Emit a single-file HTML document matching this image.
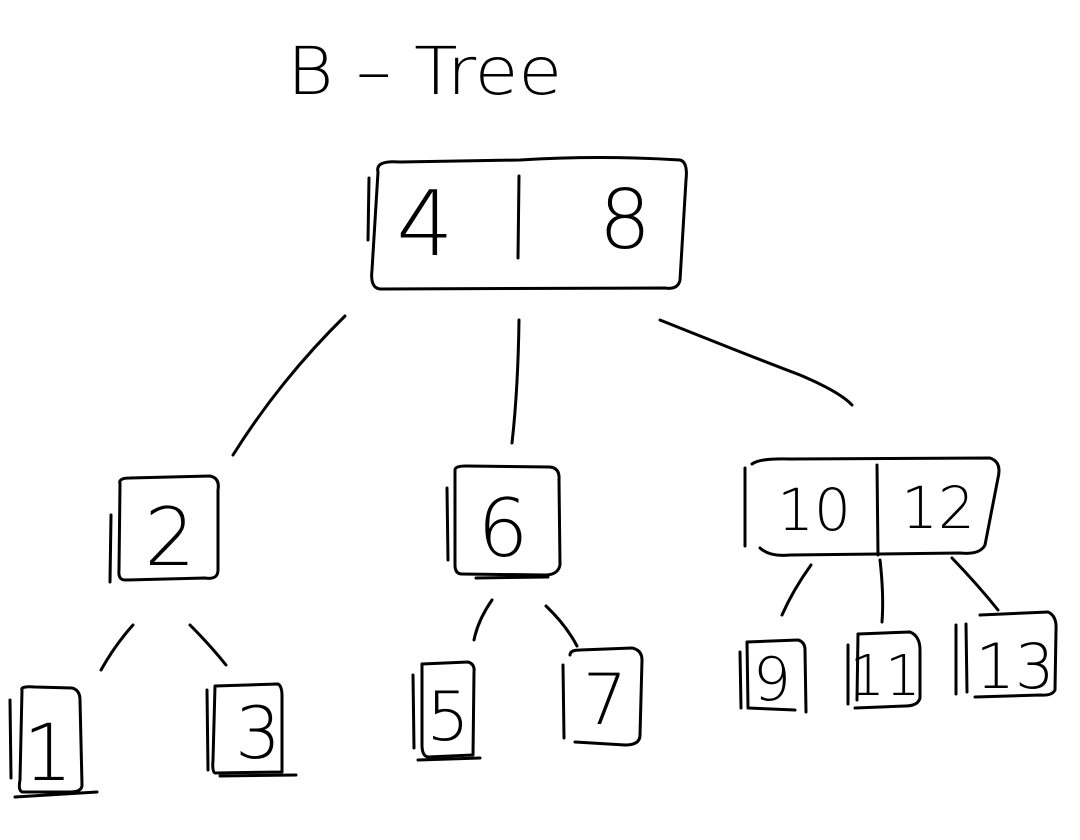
<!DOCTYPE html>
<html><head><meta charset="utf-8"><style>
html,body{margin:0;padding:0;background:#fff;}
svg{display:block}
text{font-family:"DejaVu Sans","Liberation Sans",sans-serif;font-weight:200;fill:#000}
</style></head><body>
<svg width="1080" height="840" viewBox="0 0 1080 840" xmlns="http://www.w3.org/2000/svg">
<g fill="none" stroke="#000" stroke-width="3" stroke-linecap="round" stroke-linejoin="round">
<path d="M378 172 Q375 160 400 162 L520 160 Q600 155 680 160 Q688 162 686 180 L680 280 Q678 290 665 288 L380 289 Q370 288 372 270 Z"/>
<path d="M369 178 L368 240"/>
<path d="M519 176 L518 258"/>
<path d="M345 316 Q280 380 233 455"/>
<path d="M519 320 Q518 390 512 443"/>
<path d="M660 320 Q760 360 800 375 Q840 392 852 405"/>
<path d="M120 484 Q118 478 130 478 L210 476 Q220 478 218 490 L218 570 Q218 580 205 578 L125 580 Q118 580 119 570 Z"/>
<path d="M111 515 L110 582"/>
<path d="M455 470 Q455 466 466 466 L550 467 Q560 468 559 480 L560 565 Q558 575 545 575 L462 574 Q455 574 455 565 Z"/>
<path d="M447 488 L448 560"/>
<path d="M476 578 L548 577"/>
<path d="M752 464 Q760 458 790 459 L990 458 Q1002 462 998 478 L985 545 Q980 555 960 553 L790 555 Q770 557 760 548"/>
<path d="M745 468 L745 546"/>
<path d="M877 465 L878 555"/>
<path d="M133 625 Q115 645 101 670"/>
<path d="M190 625 Q210 645 226 665"/>
<path d="M492 600 Q478 620 474 640"/>
<path d="M546 606 Q566 625 577 646"/>
<path d="M811 565 Q793 590 782 615"/>
<path d="M880 560 Q884 595 882 622"/>
<path d="M952 558 Q978 585 998 610"/>
<path d="M22 690 Q20 686 35 687 L72 688 Q80 690 80 700 L82 785 Q82 792 70 792 L22 792 Q18 790 20 780 Z"/>
<path d="M10 700 L11 778"/>
<path d="M15 797 L97 792"/>
<path d="M215 686 L278 684 Q282 686 282 696 L282 772 L215 773 Q212 772 213 760 Z"/>
<path d="M207 690 L208 770"/>
<path d="M220 776 L296 775"/>
<path d="M422 664 L468 662 Q475 664 474 672 L473 755 L428 757 Q422 756 422 745 Z"/>
<path d="M413 675 L414 748"/>
<path d="M418 760 L480 758"/>
<path d="M570 655 Q570 650 580 650 L632 648 Q642 650 642 660 L640 735 Q640 745 625 745 L575 742"/>
<path d="M563 665 L564 738"/>
<path d="M747 642 L798 640 Q805 642 805 650 L806 712"/>
<path d="M740 652 L741 708"/>
<path d="M747 642 L748 708 L795 710"/>
<path d="M858 634 L910 632 Q920 636 920 650 L920 698 Q918 706 905 706 L855 708"/>
<path d="M848 645 L848 704"/>
<path d="M858 634 L857 700"/>
<path d="M980 615 L1048 612 Q1057 616 1056 630 L1055 690 Q1052 696 1040 695 L975 697"/>
<path d="M956 625 L956 694"/>
<path d="M966 624 L967 692"/>
</g>
<text x="287" y="94" font-size="66" textLength="275" lengthAdjust="spacingAndGlyphs">B – Tree</text>
<text x="425" y="255" font-size="90" text-anchor="middle">4</text>
<text x="625" y="248" font-size="82" text-anchor="middle">8</text>
<text x="170" y="565" font-size="80" text-anchor="middle">2</text>
<text x="503" y="556" font-size="80" text-anchor="middle">6</text>
<text x="814" y="530" font-size="58" text-anchor="middle">10</text>
<text x="938" y="528" font-size="58" text-anchor="middle">12</text>
<text x="48" y="780" font-size="78" text-anchor="middle">1</text>
<text x="258" y="758" font-size="72" text-anchor="middle">3</text>
<text x="448" y="740" font-size="68" text-anchor="middle">5</text>
<text x="605" y="724" font-size="70" text-anchor="middle">7</text>
<text x="772" y="700" font-size="60" text-anchor="middle">9</text>
<text x="885" y="695" font-size="56" text-anchor="middle">11</text>
<text x="1015" y="688" font-size="62" text-anchor="middle">13</text>
</svg>
</body></html>
